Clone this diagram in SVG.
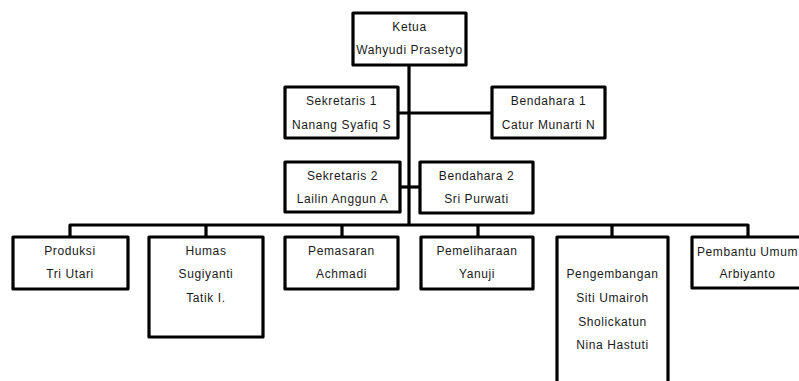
<svg xmlns="http://www.w3.org/2000/svg" width="799" height="381" viewBox="0 0 799 381">
<style>
.box{fill:#ffffff;stroke:#000000;stroke-width:3.2;stroke-linejoin:round}
.ln{fill:none;stroke:#000000;stroke-width:3.2;stroke-linejoin:round}
text{font-family:"Liberation Sans",Arial,sans-serif;font-size:12px;letter-spacing:0.6px;fill:#1a1a1a;text-anchor:middle}
</style>
<rect width="799" height="381" fill="#ffffff"/>
<g id="connectors">
<path class="ln" d="M409 65 V225"/>
<path class="ln" d="M398 113 H492"/>
<path class="ln" d="M400 187 H420"/>
<path class="ln" d="M70 237 V225 H748 V237"/>
<path class="ln" d="M206 225 V237 M342 225 V237 M478 225 V237 M612 225 V237"/>
</g>
<g id="ketua">
<rect class="box" x="353" y="13" width="113" height="52"/>
<text x="409.5" y="31">Ketua</text>
<text x="409.5" y="54">Wahyudi Prasetyo</text>
</g>
<g id="sekretaris1">
<rect class="box" x="285" y="87" width="113" height="51"/>
<text x="341.5" y="105">Sekretaris 1</text>
<text x="341.5" y="129">Nanang Syafiq S</text>
</g>
<g id="bendahara1">
<rect class="box" x="492" y="87" width="113" height="51"/>
<text x="548.5" y="105">Bendahara 1</text>
<text x="548.5" y="129">Catur Munarti N</text>
</g>
<g id="sekretaris2">
<rect class="box" x="285" y="162" width="115" height="50"/>
<text x="342.5" y="180">Sekretaris 2</text>
<text x="342.5" y="203">Lailin Anggun A</text>
</g>
<g id="bendahara2">
<rect class="box" x="420" y="162" width="113" height="51"/>
<text x="476.5" y="180">Bendahara 2</text>
<text x="476.5" y="203">Sri Purwati</text>
</g>
<g id="produksi">
<rect class="box" x="13" y="237" width="115" height="52"/>
<text x="70" y="255">Produksi</text>
<text x="70" y="278">Tri Utari</text>
</g>
<g id="humas">
<rect class="box" x="149" y="237" width="114" height="100"/>
<text x="206" y="255">Humas</text>
<text x="206" y="278">Sugiyanti</text>
<text x="206" y="302">Tatik I.</text>
</g>
<g id="pemasaran">
<rect class="box" x="285" y="237" width="113" height="52"/>
<text x="341.5" y="255">Pemasaran</text>
<text x="341.5" y="278">Achmadi</text>
</g>
<g id="pemeliharaan">
<rect class="box" x="421" y="237" width="112" height="52"/>
<text x="477" y="255">Pemeliharaan</text>
<text x="477" y="278">Yanuji</text>
</g>
<g id="pengembangan">
<rect class="box" x="557" y="237" width="111" height="160"/>
<text x="612.5" y="278">Pengembangan</text>
<text x="612.5" y="302">Siti Umairoh</text>
<text x="612.5" y="326">Sholickatun</text>
<text x="612.5" y="349">Nina Hastuti</text>
</g>
<g id="pembantu-umum">
<rect class="box" x="692" y="237" width="120" height="51"/>
<text x="747.5" y="256">Pembantu Umum</text>
<text x="747.5" y="278">Arbiyanto</text>
</g>
</svg>
